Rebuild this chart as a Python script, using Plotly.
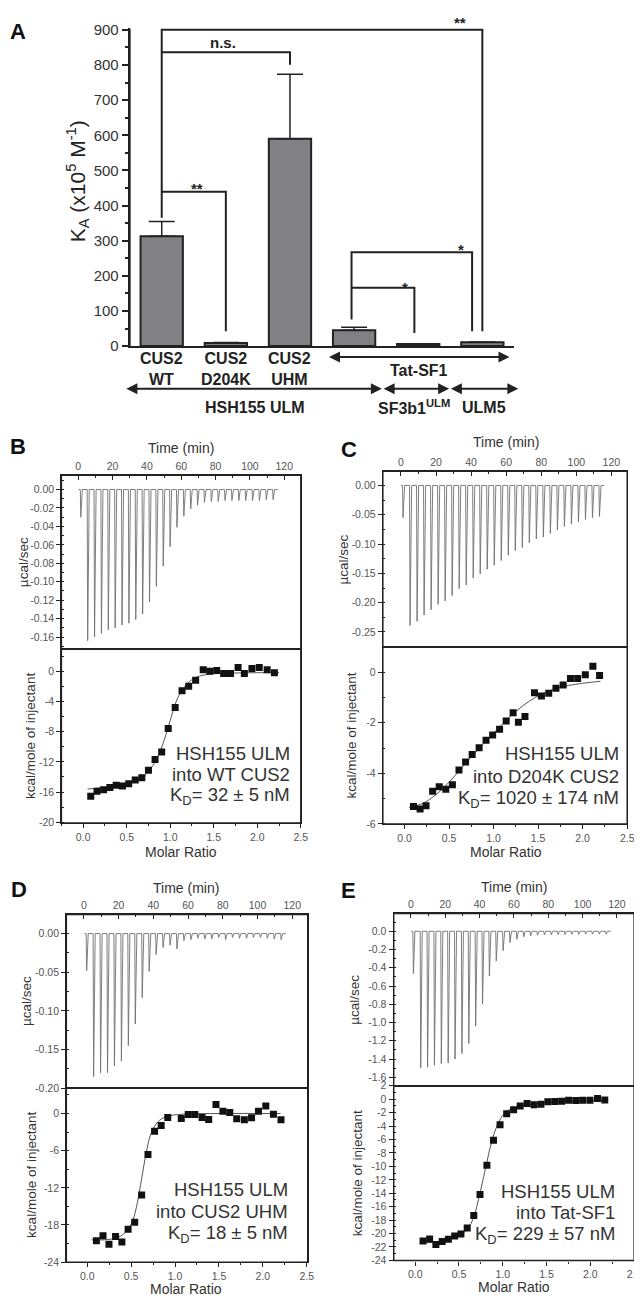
import plotly.graph_objects as go

W, H = 642, 1297
FONT = "Liberation Sans, Arial, sans-serif"
INK = "#222"

# ---------------- Panel A: K_A (x10^5 M^-1) ----------------
bar_pos = [0, 1, 2, 3, 4, 5]
ka_values = [313, 9, 590, 45, 6, 11]
ka_errors = [42, 1, 184, 9, 1, 1]
protein_labels = ["CUS2<br>WT", "CUS2<br>D204K", "CUS2<br>UHM"]
ligand_labels = ["HSH155 ULM", "SF3b1<sup>ULM</sup>", "ULM5"]

# ---------------- Panel B: HSH155 ULM into WT CUS2 ----------------
b_inj_time = [1.2, 5.2, 9.2, 13.2, 17.2, 21.2, 25.2, 29.2, 33.2, 37.2, 41.2, 45.2, 49.2, 53.2, 57.2,
              61.2, 65.2, 69.2, 73.2, 77.2, 81.2, 85.2, 89.2, 93.2, 97.2, 101.2, 105.2, 109.2, 113.2]
b_inj_heat = [-0.030, -0.164, -0.160, -0.156, -0.152, -0.150, -0.147, -0.145, -0.141, -0.135,
              -0.122, -0.105, -0.083, -0.062, -0.041, -0.029, -0.021, -0.017, -0.014,
              -0.013, -0.013, -0.012, -0.012, -0.012, -0.012, -0.012, -0.012, -0.011, -0.011]
b_ratio = [0.087, 0.159, 0.235, 0.307, 0.379, 0.451, 0.523, 0.598, 0.674, 0.750, 0.826, 0.902, 0.977, 1.057,
           1.136, 1.212, 1.292, 1.379, 1.455, 1.534, 1.614, 1.693, 1.780, 1.852, 1.939, 2.023, 2.114, 2.197]
b_enthalpy = [-16.55, -15.9, -15.7, -15.4, -15.1, -15.2, -14.9, -14.4, -14.1, -13.1, -11.7, -10.7, -7.6, -4.8,
              -2.6, -2.0, -1.2, 0.2, 0.0, 0.1, -0.3, -0.3, 0.5, -0.3, 0.35, 0.5, 0.2, -0.2]
b_fit_ratio = [0.05, 0.3, 0.5, 0.65, 0.75, 0.85, 0.92, 0.98, 1.04, 1.1, 1.2, 1.3, 1.45, 1.7, 2.0, 2.25]
b_fit_enthalpy = [-15.6, -15.3, -14.9, -14.3, -13.3, -11.5, -9.5, -7.3, -5.0, -3.2, -1.6, -0.8, -0.4, -0.25, -0.2, -0.2]
b_up_ticks = [0, -0.02, -0.04, -0.06, -0.08, -0.10, -0.12, -0.14, -0.16]
b_low_ticks = [0, -4, -8, -12, -16, -20]

# ---------------- Panel C: HSH155 ULM into D204K CUS2 ----------------
c_inj_time = [0.9, 4.9, 8.9, 12.9, 16.9, 20.9, 24.9, 28.9, 32.9, 36.9, 40.9, 44.9, 48.9, 52.9, 56.9,
              60.9, 64.9, 68.9, 72.9, 76.9, 80.9, 84.9, 88.9, 92.9, 96.9, 100.9, 104.9, 108.9, 112.9]
c_inj_heat = [-0.055, -0.239, -0.232, -0.221, -0.212, -0.203, -0.197, -0.188, -0.176, -0.170, -0.158,
              -0.151, -0.143, -0.136, -0.128, -0.119, -0.111, -0.106, -0.098, -0.091, -0.088,
              -0.082, -0.076, -0.070, -0.066, -0.062, -0.058, -0.055, -0.053]
c_ratio = [0.10, 0.174, 0.241, 0.315, 0.389, 0.463, 0.537, 0.611, 0.685, 0.759, 0.837, 0.915, 0.989, 1.067,
           1.141, 1.219, 1.278, 1.352, 1.459, 1.537, 1.619, 1.70, 1.781, 1.863, 1.944, 2.03, 2.115, 2.19]
c_enthalpy = [-5.31, -5.41, -5.28, -4.71, -4.53, -4.63, -4.45, -3.87, -3.55, -3.26, -2.99, -2.69, -2.49, -2.26,
              -1.93, -1.60, -1.98, -1.75, -0.81, -0.94, -0.83, -0.64, -0.51, -0.25, -0.25, -0.10, 0.23, -0.13]
c_fit_ratio = [0.05, 0.2, 0.35, 0.5, 0.65, 0.8, 0.95, 1.1, 1.25, 1.4, 1.55, 1.7, 1.85, 2.0, 2.2]
c_fit_enthalpy = [-5.35, -5.2, -4.85, -4.35, -3.75, -3.15, -2.6, -2.05, -1.55, -1.15, -0.85, -0.65, -0.52, -0.44, -0.36]
c_up_ticks = [0, -0.05, -0.10, -0.15, -0.20, -0.25]
c_low_ticks = [0, -2, -4, -6]

# ---------------- Panel D: HSH155 ULM into CUS2 UHM ----------------
d_inj_time = [1.3, 5.3, 9.3, 13.3, 17.3, 21.3, 25.3, 29.3, 33.3, 37.3, 41.3, 45.3, 49.3, 53.3, 57.3,
              61.3, 65.3, 69.3, 73.3, 77.3, 81.3, 85.3, 89.3, 93.3, 97.3, 101.3, 105.3, 109.3, 113.3]
d_inj_heat = [-0.048, -0.185, -0.180, -0.180, -0.171, -0.165, -0.145, -0.117, -0.083, -0.049, -0.027,
              -0.018, -0.015, -0.020, -0.009, -0.008, -0.006, -0.007, -0.007, -0.005, -0.008,
              -0.005, -0.006, -0.006, -0.005, -0.005, -0.006, -0.007, -0.008]
d_ratio = [0.105, 0.18, 0.248, 0.323, 0.395, 0.466, 0.541, 0.62, 0.692, 0.767, 0.842, 0.917, 1.071, 1.15,
           1.225, 1.308, 1.383, 1.466, 1.545, 1.623, 1.702, 1.789, 1.871, 1.95, 2.033, 2.12, 2.206]
d_enthalpy = [-20.54, -19.74, -21.13, -19.85, -20.76, -18.68, -17.56, -13.15, -6.6, -2.87, -1.92, -0.64, -0.8,
              -0.16, -0.16, -0.64, -0.96, 1.44, 0.37, 0.16, -0.85, -1.01, -0.69, 0.37, 1.22, -0.11, -1.01]
d_fit_ratio = [0.05, 0.2, 0.35, 0.45, 0.52, 0.57, 0.62, 0.67, 0.72, 0.8, 0.9, 1.1, 1.5, 2.2]
d_fit_enthalpy = [-20.4, -20.4, -20.0, -19.0, -17.2, -14.5, -10.5, -6.5, -3.5, -1.4, -0.5, -0.1, 0.0, 0.0]
d_up_ticks = [0, -0.05, -0.10, -0.15, -0.20]
d_low_ticks = [0, -6, -12, -18, -24]

# ---------------- Panel E: HSH155 ULM into Tat-SF1 ----------------
e_inj_time = [1.15, 5.4, 9.4, 13.4, 17.4, 21.4, 25.4, 29.4, 33.4, 37.4, 41.4, 45.4, 49.4, 53.4, 57.4,
              61.4, 65.4, 69.4, 73.4, 77.4, 81.4, 85.4, 89.4, 93.4, 97.4, 101.4, 105.4, 109.4, 113.4]
e_inj_heat = [-0.465, -1.496, -1.49, -1.468, -1.45, -1.443, -1.40, -1.34, -1.23, -1.04, -0.80,
              -0.49, -0.325, -0.213, -0.123, -0.087, -0.061, -0.05, -0.043, -0.04, -0.038,
              -0.036, -0.035, -0.034, -0.033, -0.032, -0.032, -0.031, -0.030]
e_ratio = [0.09, 0.165, 0.236, 0.308, 0.379, 0.451, 0.522, 0.594, 0.669, 0.74, 0.819, 0.894, 0.969, 1.045,
           1.124, 1.199, 1.278, 1.357, 1.436, 1.515, 1.594, 1.673, 1.752, 1.834, 1.913, 1.996, 2.082, 2.165]
e_enthalpy = [-21.1, -20.8, -21.64, -21.2, -20.86, -20.36, -20.07, -19.18, -17.3, -14.2, -9.84, -6.1, -3.79, -2.16,
              -1.57, -1.03, -0.64, -0.84, -0.74, -0.39, -0.34, -0.3, -0.15, -0.2, -0.15, -0.15, 0.1, -0.1]
e_fit_ratio = [0.05, 0.2, 0.35, 0.5, 0.6, 0.67, 0.73, 0.8, 0.87, 0.94, 1.02, 1.12, 1.3, 1.6, 2.0, 2.2]
e_fit_enthalpy = [-21.4, -21.3, -21.0, -20.3, -19.3, -17.5, -14.5, -10.5, -6.5, -3.8, -2.1, -1.3, -0.8, -0.4, -0.2, -0.15]
e_up_ticks = [0, -0.2, -0.4, -0.6, -0.8, -1.0, -1.2, -1.4, -1.6]
e_low_ticks = [2, 0, -2, -4, -6, -8, -10, -12, -14, -16, -18, -20, -22, -24]

time_ticks = [0, 20, 40, 60, 80, 100, 120]
ratio_ticks = [0.0, 0.5, 1.0, 1.5, 2.0, 2.5]


def px(x):
    return x / W


def py(y):
    return 1 - y / H


def dom_x(a, b):
    return [px(a), px(b)]


def dom_y(top, bottom):
    return [py(bottom), py(top)]


fig = go.Figure()
annotations = []
shapes = []


def text(x, y, s, size=14, color="#333", bold=False, angle=0, xanchor="center", align="center"):
    if bold:
        s = "<b>" + s + "</b>"
    annotations.append(dict(x=px(x), y=py(y), xref="paper", yref="paper", text=s, showarrow=False,
                            textangle=angle, xanchor=xanchor, yanchor="middle", align=align,
                            font=dict(family=FONT, size=size, color=color)))


def arrow(x0, x1, y):
    annotations.append(dict(x=px(x1), y=py(y), xref="paper", yref="paper", text="",
                            showarrow=True, axref="pixel", ayref="pixel", ax=x0 - x1, ay=0,
                            arrowside="end+start", arrowhead=2, arrowsize=1.1, arrowwidth=2,
                            arrowcolor=INK, standoff=0, startstandoff=0))


def frame(x0, x1, y0, y1, width=1.4):
    shapes.append(dict(type="rect", xref="paper", yref="paper", x0=px(x0), x1=px(x1),
                       y0=py(y1), y1=py(y0), line=dict(color=INK, width=width),
                       fillcolor="rgba(0,0,0,0)", layer="above"))


# ---------------- Panel A ----------------
fig.add_bar(x=bar_pos, y=ka_values, width=0.66,
            marker=dict(color="#808085", line=dict(color=INK, width=2)),
            error_y=dict(type="data", symmetric=False, array=ka_errors, arrayminus=[0] * 6,
                         color=INK, thickness=1.5, width=13),
            xaxis="x", yaxis="y")

layout_axes = dict(
    xaxis=dict(domain=dom_x(123, 512), range=[-0.5, 5.5], anchor="y", showline=True, linewidth=2,
               linecolor=INK, ticks="", showticklabels=False, showgrid=False, zeroline=False),
    yaxis=dict(domain=dom_y(12.9, 335), range=[0, 906], anchor="x", showline=True, linewidth=2,
               linecolor=INK, ticks="outside", ticklen=6, tickwidth=2, tickcolor=INK, dtick=100,
               tickfont=dict(family=FONT, size=15, color="#333"), showgrid=False, zeroline=False,
               minor=dict(ticks="outside", ticklen=3, tickwidth=1.5, tickcolor=INK, dtick=50)),
)
shapes.append(dict(type="line", xref="paper", yref="paper", x0=px(123), x1=px(123), y0=py(335), y1=py(14),
                   line=dict(color=INK, width=2)))

# significance brackets: path points in (bar index, K_A) plus label and label offset
brackets = [
    ([(0, 365), (0, 900), (5, 900), (5, 42)], "**", 4.65, 900, 7),
    ([(0, 836), (2, 836), (2, 801)], "n.s.", 0.95, 836, 10),
    ([(0, 439), (1, 439), (1, 42)], "**", 0.55, 439, 3),
    ([(2.96, 76), (2.96, 267), (4.84, 267), (4.84, 42)], "*", 4.67, 267, 3),
    ([(2.96, 166), (3.94, 166), (3.94, 37)], "*", 3.79, 166, 0),
]
for pts, lab, lx, ly, shift in brackets:
    path = "M " + " L ".join(f"{x},{y}" for x, y in pts)
    shapes.append(dict(type="path", path=path, xref="x", yref="y", line=dict(color=INK, width=2)))
    annotations.append(dict(x=lx, y=ly, xref="x", yref="y", text="<b>" + lab + "</b>", showarrow=False,
                            yanchor="middle", yshift=shift, font=dict(family=FONT, size=15, color=INK)))

for i, lab in enumerate(protein_labels):
    annotations.append(dict(x=bar_pos[i], y=py(358), xref="x", yref="paper", text="<b>" + lab + "</b>",
                            showarrow=False, yanchor="middle",
                            font=dict(family=FONT, size=16, color=INK)))
arrow(325, 507, 346)
text(416, 360, "Tat-SF1", size=16, color=INK, bold=True)
arrow(121, 378, 378)
arrow(379, 446, 378)
arrow(447, 516, 378)
text(250, 397, ligand_labels[0], size=16, color=INK, bold=True)
text(410, 397, ligand_labels[1], size=16, color=INK, bold=True)
text(481, 397, ligand_labels[2], size=16, color=INK, bold=True)
text(70, 168, "K<sub>A</sub> (x10<sup>5</sup> M<sup>-1</sup>)", size=21, color=INK, angle=-90)
text(10, 17, "A", size=22, color="#111", bold=True)


# ---------------- ITC panels ----------------
def itc_panel(k, box_x, box_y, t_range, up_range, up_ticks, up_fmt, up_minor,
              low_range, low_ticks, low_minor, mr_range,
              times, heats, ratio, enth, fit_r, fit_e):
    xt, yu, xm, yl = f"x{k}", f"y{k}", f"x{k + 1}", f"y{k + 1}"
    top, mid, bottom = box_y

    # raw thermogram: baseline with one sharp peak per injection
    tx, ty = [times[0] - 1], [0]
    for t, q in zip(times, heats):
        tx += [t, t + 0.3, t + 1.2]
        ty += [0, q, 0]
    tx.append(times[-1] + 3)
    ty.append(0)
    fig.add_scatter(x=tx, y=ty, mode="lines", line=dict(color="#707070", width=0.9),
                    xaxis=xt, yaxis=yu, hoverinfo="skip")
    fig.add_scatter(x=fit_r, y=fit_e, mode="lines", line=dict(color="#555", width=1, shape="spline"),
                    xaxis=xm, yaxis=yl, hoverinfo="skip")
    fig.add_scatter(x=ratio, y=enth, mode="markers",
                    marker=dict(symbol="square", size=7, color="#111", line=dict(width=0)),
                    xaxis=xm, yaxis=yl)

    base = dict(showline=True, linecolor=INK, linewidth=1.4, mirror=True, showgrid=False, zeroline=False,
                tickfont=dict(family=FONT, size=10.5, color="#555"), tickcolor=INK, ticklen=4, tickwidth=1)
    layout_axes[f"xaxis{k}"] = dict(base, domain=dom_x(*box_x), range=t_range, anchor=yu, side="top",
                                    ticks="inside", tickvals=time_ticks,
                                    minor=dict(ticks="inside", ticklen=2, dtick=10, tick0=0, tickcolor=INK))
    layout_axes[f"yaxis{k}"] = dict(base, domain=dom_y(top, mid), range=up_range, anchor=xt,
                                    ticks="outside", tickvals=up_ticks,
                                    ticktext=[format(v, up_fmt) for v in up_ticks],
                                    minor=dict(ticks="inside", ticklen=2, dtick=up_minor, tick0=0, tickcolor=INK))
    layout_axes[f"xaxis{k + 1}"] = dict(base, domain=dom_x(*box_x), range=mr_range, anchor=yl,
                                        ticks="outside", tickvals=ratio_ticks,
                                        ticktext=[f"{v:.1f}" for v in ratio_ticks],
                                        minor=dict(ticks="outside", ticklen=2, dtick=0.25, tick0=0, tickcolor=INK))
    layout_axes[f"yaxis{k + 1}"] = dict(base, domain=dom_y(mid, bottom), range=low_range, anchor=xm,
                                        ticks="outside", tickvals=low_ticks,
                                        ticktext=[f"{v:g}" for v in low_ticks],
                                        minor=dict(ticks="inside", ticklen=2, dtick=low_minor, tick0=0, tickcolor=INK))
    frame(box_x[0], box_x[1], top, mid)
    frame(box_x[0], box_x[1], mid, bottom)


itc_panel(2, (54, 296), (465.7, 641.7, 817.5), [-9.8, 129.6], [-0.1733, 0.0154], b_up_ticks, ".2f", 0.01,
          [-20.1, 2.9], b_low_ticks, 2, [-0.25, 2.5],
          b_inj_time, b_inj_heat, b_ratio, b_enthalpy, b_fit_ratio, b_fit_enthalpy)
itc_panel(4, (379, 626), (461.7, 639.3, 818.3), [-10.3, 129.0], [-0.2755, 0.024], c_up_ticks, ".2f", 0.025,
          [-6.0, 1.0], c_low_ticks, 1, [-0.244, 2.5],
          c_inj_time, c_inj_heat, c_ratio, c_enthalpy, c_fit_ratio, c_fit_enthalpy)
itc_panel(6, (59, 303), (910, 1085.7, 1261.7), [-10.1, 128.9], [-0.2, 0.0247], d_up_ticks, ".2f", 0.025,
          [-24, 4.1], d_low_ticks, 3, [-0.237, 2.51],
          d_inj_time, d_inj_heat, d_ratio, d_enthalpy, d_fit_ratio, d_fit_enthalpy)
itc_panel(8, (390, 633), (909, 1083.3, 1260), [-10.0, 130.0], [-1.693, 0.195], e_up_ticks, ".1f", 0.1,
          [-24, 2], e_low_ticks, 1, [-0.245, 2.5],
          e_inj_time, e_inj_heat, e_ratio, e_enthalpy, e_fit_ratio, e_fit_enthalpy)

# panel letters and axis titles
text(10, 437, "B", size=22, color="#111", bold=True)
text(345, 440, "C", size=22, color="#111", bold=True)
text(11, 885, "D", size=22, color="#111", bold=True)
text(344, 886, "E", size=22, color="#111", bold=True)

for cx, ty_, ux, kx, top, mid, bottom, my in [
    (175, 438, 15, 22, 465.7, 641.7, 817.5, 847),
    (503, 432, 339, 347, 461.7, 639.3, 818.3, 847),
    (180, 883, 19, 23, 910, 1085.7, 1261.7, 1289),
    (512, 882, 350, 353, 909, 1083.3, 1260, 1287),
]:
    text(cx, ty_, "Time (min)", size=14)
    text(ux, (top + mid) / 2, "µcal/sec", size=13.5, angle=-90)
    text(kx, (mid + bottom) / 2, "kcal/mole of injectant", size=13.5, angle=-90)
    text(cx, my, "Molar Ratio", size=14)

# binding summaries
for right, ys, lines in [
    (287, (747, 768.5, 790), ["HSH155 ULM", "into WT CUS2", "K<sub>D</sub>= 32 ± 5 nM"]),
    (620, (747, 770, 793), ["HSH155 ULM", "into D204K CUS2", "K<sub>D</sub>= 1020 ± 174 nM"]),
    (285, (1188, 1210, 1233), ["HSH155 ULM", "into CUS2 UHM", "K<sub>D</sub>= 18 ± 5 nM"]),
    (616, (1190, 1212, 1234), ["HSH155 ULM", "into Tat-SF1", "K<sub>D</sub>= 229 ± 57 nM"]),
]:
    for y, s in zip(ys, lines):
        text(right, y, s, size=18.5, color="#333", xanchor="right")

fig.update_layout(
    width=W, height=H, autosize=False,
    margin=dict(l=0, r=0, t=0, b=0),
    paper_bgcolor="white", plot_bgcolor="rgba(0,0,0,0)",
    showlegend=False,
    font=dict(family=FONT, color="#333"),
    annotations=annotations, shapes=shapes,
    **layout_axes,
)

fig.write_html("out.html")
